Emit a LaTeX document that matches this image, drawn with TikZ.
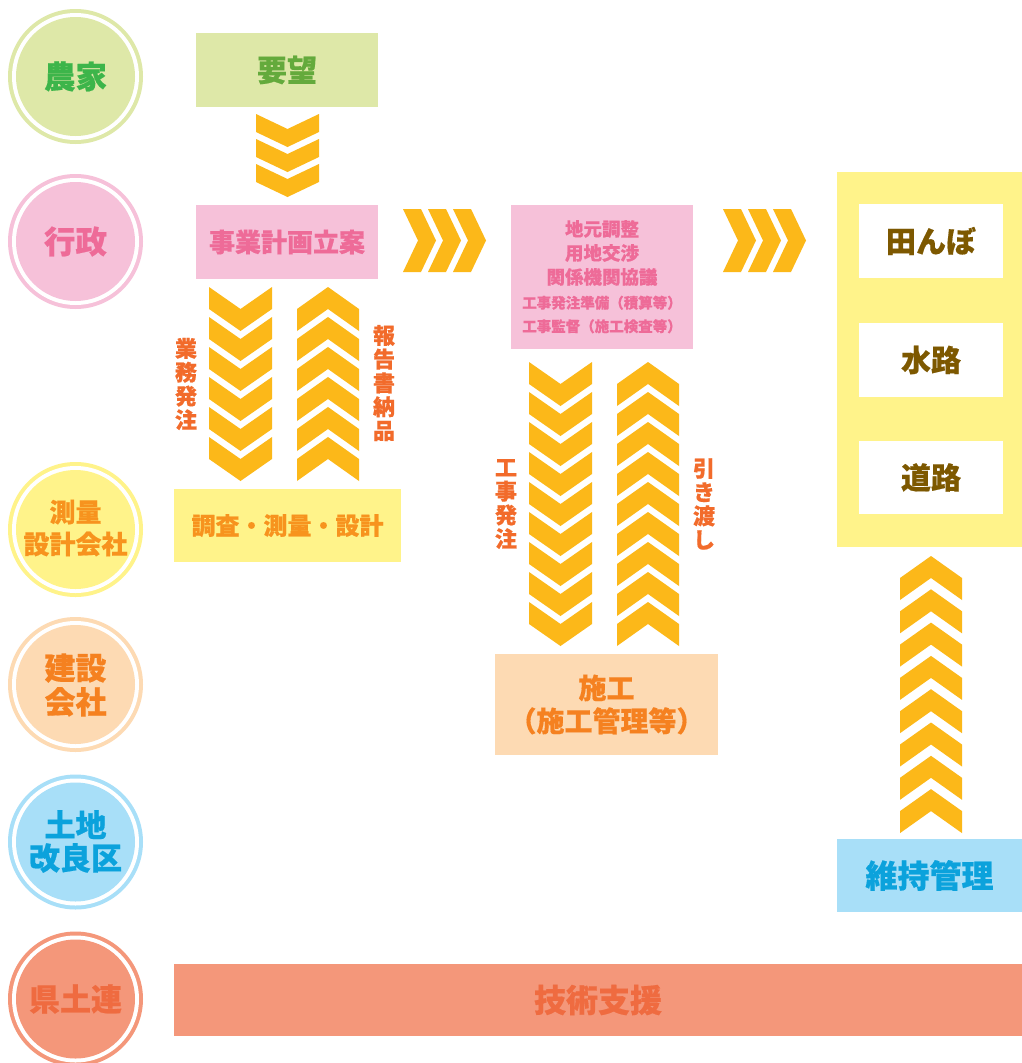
\documentclass[tikz,border=0pt]{standalone}
\usepackage{fontspec}
\setmainfont{Noto Sans CJK JP}[BoldFeatures={FakeBold=0.5}]
\definecolor{chevc}{HTML}{FCB819}
\definecolor{grF}{HTML}{DEE8A8}\definecolor{grT}{HTML}{3DB54A}\definecolor{grT2}{HTML}{64AA3C}
\definecolor{pkF}{HTML}{F6C1D9}\definecolor{pkT}{HTML}{EE6B98}
\definecolor{ylF}{HTML}{FFF38A}\definecolor{ylT}{HTML}{F7931E}
\definecolor{peF}{HTML}{FDDAB3}\definecolor{peT}{HTML}{F58120}
\definecolor{blF}{HTML}{A8DFF8}\definecolor{blT}{HTML}{0BA2DC}
\definecolor{saF}{HTML}{F4977A}\definecolor{saT}{HTML}{EF6B40}
\definecolor{lblc}{HTML}{F26B2B}
\definecolor{brT}{HTML}{7D5800}
\newcommand\chevdown[7]{%
 \foreach \i in {1,...,#6}{%
   \pgfmathsetmacro\yy{#2+(\i-1)*#7}%
   \fill[chevc] (#1,\yy) -- ++(#3/2,#5) -- ++(#3/2,-#5) -- ++(0,#4) -- ++(-#3/2,#5) -- ++(-#3/2,-#5) -- cycle;
 }}
\newcommand\chevup[7]{%
 \foreach \i in {1,...,#6}{%
   \pgfmathsetmacro\yy{#2+(\i-1)*#7+#5}%
   \fill[chevc] (#1,\yy) -- ++(#3/2,-#5) -- ++(#3/2,#5) -- ++(0,#4) -- ++(-#3/2,-#5) -- ++(-#3/2,#5) -- cycle;
 }}
\newcommand\chevright[7]{% x0,y0,h,t,d,n,p
 \foreach \i in {1,...,#6}{%
   \pgfmathsetmacro\xx{#1+(\i-1)*#7}%
   \fill[chevc] (\xx,#2) -- ++(#4,0) -- ++(#5,#3/2) -- ++(-#5,#3/2) -- ++(-#4,0) -- ++(#5,-#3/2) -- cycle;
 }}
\newcommand\rolecircle[2]{% y, fill
  \fill[#2] (75.5,#1) circle (67.5pt);
  \fill[white] (75.5,#1) circle (63.5pt);
  \fill[#2] (75.5,#1) circle (59.5pt);
}
\tikzset{
  box/.style={inner sep=0pt, align=center, font=\bfseries},
  lbl/.style={inner sep=0pt, align=center, text=lblc, font=\fontsize{22}{23.8}\selectfont\bfseries},
  ctext/.style={inner sep=0pt, align=center},
}
\begin{document}
\begin{tikzpicture}[x=1pt,y=-1pt]
\useasboundingbox (0,0) rectangle (1022,1063);
\fill[white] (0,0) rectangle (1022,1063);
% circles
\rolecircle{76.5}{grF}
\rolecircle{241.5}{pkF}
\rolecircle{529.5}{ylF}
\rolecircle{684.5}{peF}
\rolecircle{842}{blF}
\rolecircle{999}{saF}
\node[ctext,text=grT,font=\fontsize{31.5}{34}\selectfont\bfseries] (nouka) at (75.5,76.5) {農家};
\node[ctext,text=pkT,font=\fontsize{31.5}{34}\selectfont\bfseries] (gyosei) at (75.5,241.5) {行政};
\node[ctext,text=ylT,font=\fontsize{26}{32}\selectfont\bfseries] (sokuryo) at (75.5,528) {測量\\設計会社};
\node[ctext,text=peT,font=\fontsize{31}{34}\selectfont\bfseries] (kensetsu) at (75.5,685) {建設\\会社};
\node[ctext,text=blT,font=\fontsize{31}{33}\selectfont\bfseries] (tochi) at (75.5,841.5) {土地\\改良区};
\node[ctext,text=saT,font=\fontsize{31}{34}\selectfont\bfseries] (kendoren) at (75.5,999) {県土連};
% boxes
\node[box,fill=grF,text=grT2,minimum width=182pt,minimum height=74pt,font=\fontsize{30}{32}\selectfont\bfseries] (yobo) at (287,70) {要望};
\node[box,fill=pkF,text=pkT,minimum width=182pt,minimum height=74pt,font=\fontsize{26}{30}\selectfont\bfseries] (jigyo) at (287,242) {事業計画立案};
\node[box,fill=ylF,text=ylT,minimum width=227pt,minimum height=73pt,font=\fontsize{24}{30}\selectfont\bfseries] (chosa) at (287.5,525.5) {調査・測量・設計};
\node[box,fill=pkF,text=pkT,minimum width=182pt,minimum height=144pt] (jimoto) at (602,277) {};
\node[ctext,text=pkT,font=\fontsize{18.5}{24}\selectfont\bfseries] (jimotoA) at (602,253) {地元調整\\用地交渉\\関係機関協議};
\node[ctext,text=pkT,font=\fontsize{14.5}{23.5}\selectfont\bfseries] (jimotoB) at (602,314.5) {工事発注準備（積算等）\\工事監督（施工検査等）};
\node[box,fill=peF,text=peT,minimum width=223pt,minimum height=101pt,font=\fontsize{28}{33}\selectfont\bfseries] (seko) at (606.5,704.5) {施工\\（施工管理等）};
\node[box,fill=ylF,minimum width=185pt,minimum height=375pt] (infra) at (929.5,359.5) {};
\node[box,fill=white,text=brT,minimum width=144pt,minimum height=74pt,font=\fontsize{30}{32}\selectfont\bfseries] (tanbo) at (931,241) {田んぼ};
\node[box,fill=white,text=brT,minimum width=144pt,minimum height=74pt,font=\fontsize{30}{32}\selectfont\bfseries] (suiro) at (931,360) {水路};
\node[box,fill=white,text=brT,minimum width=144pt,minimum height=73pt,font=\fontsize{30}{32}\selectfont\bfseries] (doro) at (931,477.5) {道路};
\node[box,fill=blF,text=blT,minimum width=185pt,minimum height=73pt,font=\fontsize{32}{34}\selectfont\bfseries] (iji) at (929.5,875.5) {維持管理};
\node[box,fill=saF,text=saT,minimum width=848pt,minimum height=72pt,font=\fontsize{32}{34}\selectfont\bfseries] (gijutsu) at (598,1000) {技術支援};
% chevrons
\chevdown{256}{114}{63}{18}{15}{3}{25}
\chevdown{209}{287}{63}{22}{22}{6}{30}
\chevup{297}{287}{62}{22}{22}{6}{30}
\chevright{403}{209}{63}{18}{15}{3}{25}
\chevright{723}{209}{63}{18}{15}{3}{25}
\chevdown{529}{362}{63}{22}{22}{9}{30}
\chevup{617}{362}{62}{22}{22}{9}{30}
\chevup{900}{556}{62}{22}{22}{8}{33.3}
% labels
\node[lbl] (gyomu) at (186,384) {業\\務\\発\\注};
\node[lbl] (hokoku) at (384,383) {報\\告\\書\\納\\品};
\node[lbl] (koji) at (506,504) {工\\事\\発\\注};
\node[lbl] (hikiwatashi) at (704,504) {引\\き\\渡\\し};
\end{tikzpicture}
\end{document}
